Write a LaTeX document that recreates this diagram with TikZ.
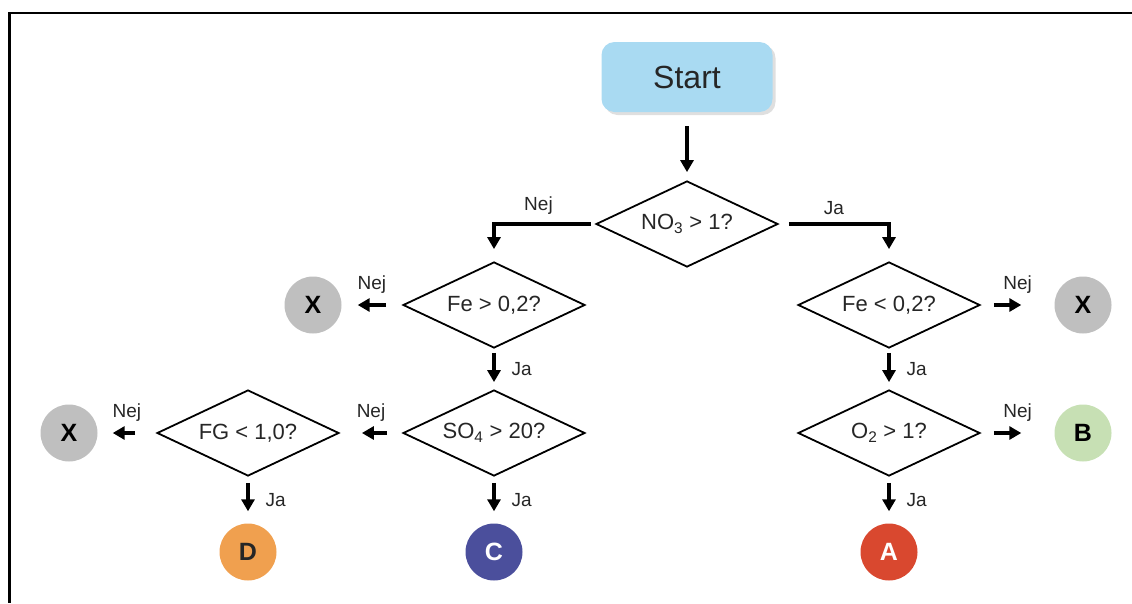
\documentclass[tikz,border=0pt]{standalone}
\usepackage{fontspec}
\setmainfont{Liberation Sans}
\usetikzlibrary{positioning, shapes.geometric, arrows.meta, shadows}
\definecolor{startblue}{HTML}{A9DAF2}
\definecolor{xgrey}{HTML}{BFBFBF}
\definecolor{dorange}{HTML}{F0A04F}
\definecolor{cblue}{HTML}{4B4F9C}
\definecolor{ared}{HTML}{D9482F}
\definecolor{bgreen}{HTML}{C7E0B4}

\begin{document}
\begin{tikzpicture}[node distance=10pt, on grid,
  decision/.style={draw, diamond, aspect=2.1, line width=1.8pt, minimum width=182pt, minimum height=86pt, inner sep=0pt, font=\fontsize{22}{26}\selectfont, text=black!85},
  result/.style={circle, minimum size=57pt, inner sep=0pt, font=\fontsize{25}{30}\selectfont\bfseries},
  answer/.style={font=\fontsize{19}{22}\selectfont, inner sep=2pt, text=black!85},
  arrow/.style={-{Triangle[length=12pt,width=13pt]}, line width=3.4pt}]
  \useasboundingbox (0,0) rectangle (1132pt,-603pt);
  \draw[line width=2.7pt] (1132pt,-13pt) -- (9.5pt,-13pt) -- (9.5pt,-603pt);

  \node[fill=startblue, rounded corners=13pt, minimum width=171pt, minimum height=70pt, drop shadow={shadow xshift=3pt, shadow yshift=-3pt, opacity=0.25}, font=\fontsize{32}{38}\selectfont, text=black!85] (start) at (687pt,-77pt) {Start};
  \node[decision, below=147pt of start]                  (no3)  {NO\textsubscript{3} > 1?};
  \node[decision, below left=81pt and 193pt of no3]     (fe gt) {Fe > 0,2?};
  \node[decision, below right=81pt and 202pt of no3]    (fe lt) {Fe < 0,2?};
  \node[result, fill=xgrey, left=181pt of fe gt]          (x1)   {X};
  \node[decision, below=128pt of fe gt]                  (so4)  {SO\textsubscript{4} > 20?};
  \node[decision, left=246pt of so4]                     (fg)   {FG < 1,0?};
  \node[result, fill=xgrey, left=179pt of fg]            (x2)   {X};
  \node[result, fill=cblue, text=white, below=119pt of so4] (C) {C};
  \node[result, fill=dorange, text=black!85, below=119pt of fg] (D) {D};
  \node[result, fill=xgrey, right=194pt of fe lt]        (x3)   {X};
  \node[decision, below=128pt of fe lt]                  (o2)   {O\textsubscript{2} > 1?};
  \node[result, fill=bgreen, right=194pt of o2]          (B)    {B};
  \node[result, fill=ared, text=white, below=119pt of o2] (A)   {A};

  \draw[arrow, shorten <=14pt, shorten >=8pt] (start) -- (no3);
  \draw[arrow, shorten <=4pt, shorten >=12pt] (no3.west) -| node[answer, pos=0.28, above=6pt] {Nej} (fe gt.north);
  \draw[arrow, shorten <=10pt, shorten >=12pt] (no3.east) -| node[answer, pos=0.25, above=6pt] {Ja} (fe lt.north);
  \draw[arrow, shorten <=16pt, shorten >=16pt] (fe gt.west) -- node[answer, above=8pt] {Nej} (x1.east);
  \draw[arrow, shorten <=4pt, shorten >=7pt] (fe gt.south) -- node[answer, right=14pt] {Ja} (so4.north);
  \draw[arrow, shorten <=15pt, shorten >=22pt] (so4.west) -- node[answer, above=8pt] {Nej} (fg.east);
  \draw[arrow, shorten <=6pt, shorten >=12pt] (so4.south) -- node[answer, right=14pt] {Ja} (C.north);
  \draw[arrow, shorten <=21pt, shorten >=15pt] (fg.west) -- node[answer, above=8pt] {Nej} (x2.east);
  \draw[arrow, shorten <=6pt, shorten >=12pt] (fg.south) -- node[answer, right=14pt] {Ja} (D.north);
  \draw[arrow, shorten <=13pt, shorten >=33pt] (fe lt.east) -- node[answer, above=8pt] {Nej} (x3.west);
  \draw[arrow, shorten <=4pt, shorten >=7pt] (fe lt.south) -- node[answer, right=14pt] {Ja} (o2.north);
  \draw[arrow, shorten <=13pt, shorten >=33pt] (o2.east) -- node[answer, above=8pt] {Nej} (B.west);
  \draw[arrow, shorten <=6pt, shorten >=12pt] (o2.south) -- node[answer, right=14pt] {Ja} (A.north);
\end{tikzpicture}
\end{document}
